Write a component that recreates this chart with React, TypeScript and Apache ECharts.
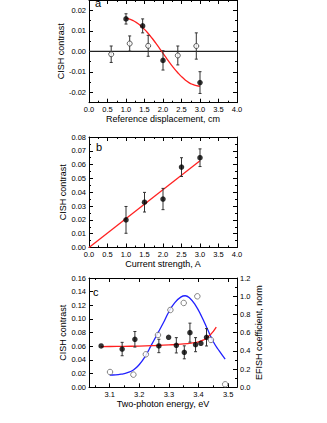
import React, { useEffect, useRef } from "react";
import * as echarts from "echarts";

const FONT = '"Liberation Sans", Arial, sans-serif';

// ---------- Panel a ----------
const aXTicks = [0, 0.5, 1, 1.5, 2, 2.5, 3, 3.5, 4];
const aXMinor = [0.25, 0.75, 1.25, 1.75, 2.25, 2.75, 3.25, 3.75];
const aYTicks = [-0.02, -0.01, 0, 0.01, 0.02];
const aYMinor = [-0.025, -0.015, -0.005, 0.005, 0.015, 0.025];
const aFilledX = [1.0, 1.45, 2.0, 3.0];
const aFilledY = [0.0158, 0.0124, -0.0044, -0.0152];
const aFilledErr = [0.0025, 0.0034, 0.0047, 0.0053];
const aOpenX = [0.6, 1.1, 1.6, 2.4, 2.9];
const aOpenY = [-0.0014, 0.0038, 0.0027, -0.002, 0.0026];
const aOpenErr = [0.004, 0.0037, 0.0051, 0.0046, 0.0064];
const aFitX = [1.0, 1.1, 1.2, 1.3, 1.4, 1.5, 1.6, 1.7, 1.8, 1.9, 2.0, 2.1, 2.2, 2.3, 2.4, 2.5, 2.6, 2.7, 2.8, 2.9, 3.0];
const aFitY = [0.0162, 0.0157, 0.0149, 0.0138, 0.0124, 0.0107, 0.0087, 0.0065, 0.0041, 0.0016, -0.001, -0.0035, -0.006, -0.0083, -0.0104, -0.0123, -0.0139, -0.0152, -0.0161, -0.0167, -0.017];

// ---------- Panel b ----------
const bXTicks = [0, 0.5, 1, 1.5, 2, 2.5, 3, 3.5, 4];
const bXMinor = [0.25, 0.75, 1.25, 1.75, 2.25, 2.75, 3.25, 3.75];
const bYTicks = [0, 0.01, 0.02, 0.03, 0.04, 0.05, 0.06, 0.07, 0.08];
const bYMinor = [0.005, 0.015, 0.025, 0.035, 0.045, 0.055, 0.065, 0.075];
const bX = [1.0, 1.5, 2.0, 2.5, 3.0];
const bY = [0.02, 0.0328, 0.0351, 0.0582, 0.065];
const bErr = [0.0097, 0.0071, 0.0077, 0.0068, 0.0064];
const bFitX = [0, 3.0];
const bFitY = [0, 0.0628];

// ---------- Panel c ----------
const cXTicks = [3.1, 3.2, 3.3, 3.4, 3.5];
const cXMinor = [3.05, 3.15, 3.25, 3.35, 3.45];
const cYTicks = [0, 0.02, 0.04, 0.06, 0.08, 0.1, 0.12, 0.14, 0.16];
const cY2Ticks = [0, 0.2, 0.4, 0.6, 0.8, 1.0, 1.2];
const cY2Minor = [0.1, 0.3, 0.5, 0.7, 0.9, 1.1];
const cFilledX = [3.071, 3.142, 3.185, 3.266, 3.299, 3.325, 3.352, 3.371, 3.39, 3.408, 3.427];
const cFilledY = [0.0605, 0.056, 0.0703, 0.0605, 0.0732, 0.0615, 0.0512, 0.08, 0.0624, 0.0644, 0.0732];
const cFilledErr = [0, 0.0098, 0.0114, 0.0098, 0, 0.0112, 0.0095, 0.0139, 0.0103, 0, 0.0127];
const cOpenX = [3.101, 3.18, 3.222, 3.263, 3.305, 3.35, 3.396, 3.442, 3.49];
const cOpenY = [0.168, 0.139, 0.362, 0.574, 0.849, 0.926, 0.999, 0.52, 0.033];
const cRedX = [3.07, 3.1, 3.15, 3.2, 3.25, 3.3, 3.35, 3.38, 3.4, 3.42, 3.43, 3.44, 3.45, 3.46];
const cRedY = [0.0595, 0.0597, 0.06, 0.0603, 0.061, 0.062, 0.0635, 0.065, 0.0665, 0.07, 0.073, 0.077, 0.082, 0.088];
const cBlueX = [3.1, 3.12, 3.14, 3.16, 3.18, 3.2, 3.22, 3.24, 3.26, 3.28, 3.3, 3.32, 3.34, 3.355, 3.37, 3.39, 3.41, 3.43, 3.45, 3.47, 3.49];
const cBlueY = [0.135, 0.137, 0.145, 0.16, 0.19, 0.25, 0.34, 0.46, 0.58, 0.7, 0.83, 0.93, 0.99, 1.005, 0.98, 0.9, 0.78, 0.64, 0.5, 0.4, 0.31];

const zip = (xs: number[], ys: number[]) => xs.map((x, i) => [x, ys[i]]);
const errData = (xs: number[], ys: number[], es: number[]) =>
  xs.map((x, i) => [x, ys[i] - es[i], ys[i] + es[i]]).filter((_, i) => es[i] > 0);

function majorAxis(g: number, pos: string, min: number, max: number, ticks: number[], digits: number | null, name?: string, nameGap?: number) {
  return {
    type: "value", gridIndex: g, position: pos, min, max,
    axisLine: { show: true, onZero: false, lineStyle: { color: "#000", width: 1 } },
    axisTick: { show: true, inside: true, length: 4, customValues: ticks, lineStyle: { color: "#000", width: 1 } },
    axisLabel: {
      show: digits !== null, customValues: ticks, showMinLabel: true, showMaxLabel: true,
      formatter: (v: number) => (digits === null ? "" : Number(v).toFixed(digits)),
      fontSize: 7.5, color: "#000", margin: 3, fontFamily: FONT,
    },
    splitLine: { show: false },
    name: name || "", nameLocation: "middle", nameGap: nameGap || 0, nameRotate: pos === "left" || pos === "right" ? 90 : 0,
    nameTextStyle: { fontSize: 9, fontFamily: FONT, color: "#000" },
  };
}
function minorAxis(g: number, pos: string, min: number, max: number, ticks: number[]) {
  return {
    type: "value", gridIndex: g, position: pos, min, max,
    axisLine: { show: false, onZero: false },
    axisTick: { show: ticks.length > 0, inside: true, length: 2, customValues: ticks, lineStyle: { color: "#000", width: 1 } },
    axisLabel: { show: false },
    splitLine: { show: false },
  };
}

function errSeries(xi: number, yi: number, data: number[][]) {
  return {
    type: "custom", xAxisIndex: xi, yAxisIndex: yi, data, z: 3,
    encode: { x: 0, y: [1, 2] },
    renderItem: (params: any, api: any) => {
      const x = api.value(0);
      const p1 = api.coord([x, api.value(1)]);
      const p2 = api.coord([x, api.value(2)]);
      const st = { stroke: "#333", lineWidth: 1 };
      return {
        type: "group",
        children: [
          { type: "line", shape: { x1: p1[0], y1: p1[1], x2: p2[0], y2: p2[1] }, style: st },
          { type: "line", shape: { x1: p1[0] - 1.5, y1: p1[1], x2: p1[0] + 1.5, y2: p1[1] }, style: st },
          { type: "line", shape: { x1: p2[0] - 1.5, y1: p2[1], x2: p2[0] + 1.5, y2: p2[1] }, style: st },
        ],
      };
    },
  };
}
function lineSeries(xi: number, yi: number, data: number[][], color: string, width = 1.3) {
  return {
    type: "line", xAxisIndex: xi, yAxisIndex: yi, data, showSymbol: false, symbol: "none", smooth: true, z: 2,
    lineStyle: { color, width },
  };
}
function dotSeries(xi: number, yi: number, data: number[][], filled: boolean, stroke = "#000", size = 5.5) {
  return {
    type: "scatter", xAxisIndex: xi, yAxisIndex: yi, data, symbol: "circle", symbolSize: size, z: 5,
    itemStyle: filled ? { color: "#000", borderColor: "#000", borderWidth: 0 } : { color: "#fff", borderColor: stroke, borderWidth: 1 },
  };
}

export default function App() {
  const ref = useRef<HTMLDivElement>(null);
  useEffect(() => {
    document.body.style.margin = "0";
    const chart = echarts.init(ref.current!, null, { renderer: "svg" });
    const L = 89, R = 90;
    const grids = [
      { left: L, right: R, top: -7.8, height: 110.5 },
      { left: L, right: R, top: 137, height: 110.5 },
      { left: L, right: R, top: 278, height: 109.3 },
    ];
    const xAxis: any[] = [
      majorAxis(0, "bottom", 0, 4, aXTicks, 1, "Reference displacement, cm", 11),
      minorAxis(0, "bottom", 0, 4, aXMinor),
      majorAxis(0, "top", 0, 4, aXTicks, null),
      minorAxis(0, "top", 0, 4, aXMinor),
      majorAxis(1, "bottom", 0, 4, bXTicks, 1, "Current strength, A", 11),
      minorAxis(1, "bottom", 0, 4, bXMinor),
      majorAxis(1, "top", 0, 4, bXTicks, null),
      minorAxis(1, "top", 0, 4, bXMinor),
      majorAxis(2, "bottom", 3.03, 3.53, cXTicks, 1, "Two-photon energy, eV", 11),
      minorAxis(2, "bottom", 3.03, 3.53, cXMinor),
      majorAxis(2, "top", 3.03, 3.53, cXTicks, null),
      minorAxis(2, "top", 3.03, 3.53, cXMinor),
    ];
    const yAxis: any[] = [
      majorAxis(0, "left", -0.025, 0.025, aYTicks, 2, "CISH contrast", 22),
      minorAxis(0, "left", -0.025, 0.025, aYMinor),
      majorAxis(0, "right", -0.025, 0.025, aYTicks, null),
      minorAxis(0, "right", -0.025, 0.025, aYMinor),
      majorAxis(1, "left", 0, 0.08, bYTicks, 2, "CISH contrast", 22),
      minorAxis(1, "left", 0, 0.08, bYMinor),
      majorAxis(1, "right", 0, 0.08, bYTicks, null),
      minorAxis(1, "right", 0, 0.08, bYMinor),
      majorAxis(2, "left", 0, 0.16, cYTicks, 2, "CISH contrast", 22),
      minorAxis(2, "left", 0, 0.16, []),
      majorAxis(2, "right", 0, 1.2, cY2Ticks, 1, "EFISH coefficient, norm", 17),
      minorAxis(2, "right", 0, 1.2, cY2Minor),
    ];
    const series: any[] = [
      // panel a
      lineSeries(0, 0, [[0, 0], [4, 0]], "#222", 1.2),
      lineSeries(0, 0, zip(aFitX, aFitY), "#ff2020"),
      errSeries(0, 0, errData(aFilledX, aFilledY, aFilledErr)),
      errSeries(0, 0, errData(aOpenX, aOpenY, aOpenErr)),
      dotSeries(0, 0, zip(aFilledX, aFilledY), true),
      dotSeries(0, 0, zip(aOpenX, aOpenY), false, "#333", 5),
      // panel b
      lineSeries(4, 4, zip(bFitX, bFitY), "#ff2020"),
      errSeries(4, 4, errData(bX, bY, bErr)),
      dotSeries(4, 4, zip(bX, bY), true),
      // panel c
      lineSeries(8, 10, zip(cBlueX, cBlueY), "#2020ff"),
      lineSeries(8, 8, zip(cRedX, cRedY), "#ff2020"),
      errSeries(8, 8, errData(cFilledX, cFilledY, cFilledErr)),
      dotSeries(8, 8, zip(cFilledX, cFilledY), true),
      dotSeries(8, 10, zip(cOpenX, cOpenY), false, "#666", 5.5),
    ];
    const letter = (t: string, x: number, y: number) => ({
      type: "text", left: x, top: y, z: 10,
      style: { text: t, fontSize: 11, fontFamily: FONT, fill: "#000" },
    });
    chart.setOption({
      animation: false,
      backgroundColor: "#fff",
      grid: grids,
      xAxis, yAxis, series,
      graphic: [letter("a", 95, -3), letter("b", 96, 141), letter("c", 93, 286)],
    });
    return () => chart.dispose();
  }, []);
  return <div ref={ref} style={{ width: 327, height: 423 }} />;
}
